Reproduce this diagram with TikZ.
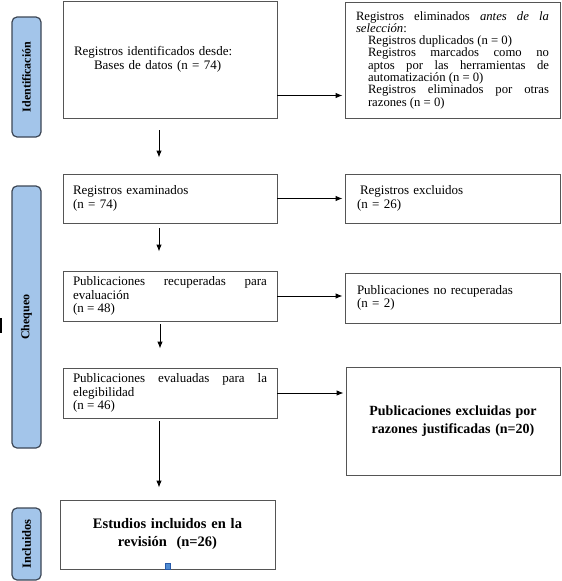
\documentclass[tikz,border=0pt]{standalone}
\usepackage{fontspec}
\setmainfont{Liberation Serif}
\usetikzlibrary{arrows.meta,calc}
\definecolor{labfill}{RGB}{163,197,234}
\definecolor{labdraw}{RGB}{60,70,85}
\definecolor{boxdraw}{RGB}{85,85,85}
\definecolor{mkfill}{RGB}{80,140,210}
\definecolor{mkdraw}{RGB}{40,90,170}
\tikzset{
  box/.style={draw=boxdraw, line width=0.9pt, fill=white, inner xsep=10pt, inner ysep=0pt,
    font=\fontsize{13}{13.5}\selectfont, execute at begin node={\setlength{\parindent}{0pt}}},
  boldbox/.style={box, align=center, font=\bfseries\fontsize{14}{17.5}\selectfont},
  lab/.style={draw=labdraw, fill=labfill, line width=1.2pt, rounded corners=5pt, rotate=90,
    inner sep=0pt, font=\bfseries\fontsize{12}{13}\selectfont},
  arr/.style={-{Latex[length=7pt,width=5.5pt]}, line width=0.9pt, black},
}
\begin{document}
\begin{tikzpicture}[x=1pt,y=-1pt]
\useasboundingbox (0,0) rectangle (562,581);

% stage labels
\node[lab, minimum width=120pt, minimum height=29pt] (L1) at (26.5,77) {Identificación};
\node[lab, minimum width=262pt, minimum height=29pt] (L2) at (26.5,317) {Chequeo};
\node[lab, minimum width=72pt, minimum height=29pt, font=\bfseries\fontsize{12.5}{14}\selectfont] (L3) at (26.5,544) {Incluidos};

% boxes
\node[box, minimum width=214pt, minimum height=117pt, inner xsep=11pt, text width=192pt, align=left] (b1) at (170,59.5)
  {Registros identificados desde:\\\hspace*{20pt}Bases de datos (n = 74)};
\node[box, minimum width=215pt, minimum height=116pt, inner xsep=11pt, text width=193pt, align=justify,
  font=\fontsize{12.7}{12.3}\selectfont] (b2) at (452.5,60)
  {Registros eliminados \textit{antes de la}\linebreak \textit{selección}:\par
   {\leftskip=12pt Registros duplicados (n = 0)\par
   Registros marcados como no\linebreak aptos por las herramientas de\linebreak automatización (n = 0)\par
   Registros eliminados por otras\linebreak razones (n = 0)\par}};

\node[box, minimum width=214pt, minimum height=49pt, text width=194pt, align=left] (b3) at (170,198.5)
  {Registros examinados\\(n = 74)};
\node[box, minimum width=215pt, minimum height=49pt, inner xsep=12pt, text width=191pt, align=left] (b4) at (452.5,198.5)
  {\hspace*{3pt}Registros excluidos\\(n = 26)};

\node[box, minimum width=214pt, minimum height=50pt, text width=194pt, align=justify] (b5) at (170,296)
  {Publicaciones recuperadas para\linebreak evaluación\par (n = 48)};
\node[box, minimum width=215pt, minimum height=50pt, inner xsep=12pt, text width=191pt, align=left] (b6) at (452.5,298)
  {Publicaciones no recuperadas\\(n = 2)};

\node[box, minimum width=214pt, minimum height=50pt, text width=194pt, align=justify] (b7) at (170,393)
  {Publicaciones evaluadas para la\linebreak elegibilidad\par (n = 46)};
\node[boldbox, minimum width=214pt, minimum height=108pt, text width=194pt] (b8) at (453,421)
  {Publicaciones excluidas por\\razones justificadas (n=20)};

\node[boldbox, minimum width=215pt, minimum height=69pt, text width=195pt, font=\bfseries\fontsize{14.5}{18}\selectfont] (b9) at (167.5,534.5)
  {Estudios incluidos en la\\revisión~~(n=26)};

% small marker on bottom edge of final box
\node[fill=mkfill, draw=mkdraw, line width=0.5pt, minimum width=5pt, minimum height=6pt, inner sep=0pt] (mk) at (168,566) {};

% stray mark at left edge
\draw[line width=1.4pt] (1,318) -- (1,333);

% horizontal connectors
\draw[arr, shorten >=2pt] ([yshift=-36pt]b1.east) -- ([yshift=-36pt]b1.east -| b2.west);
\draw[arr, shorten >=2pt] (b3.east) -- (b3.east -| b4.west);
\draw[arr, shorten >=2pt] (b5.east) -- (b5.east -| b6.west);
\draw[arr, shorten >=2pt] (b7.east) -- (b7.east -| b8.west);

% vertical connectors
\draw[arr] ([xshift=-11pt,yshift=-12pt]b1.south) -- ([xshift=-11pt,yshift=16pt]b3.north);
\draw[arr] ([xshift=-11pt,yshift=-5pt]b3.south) -- ([xshift=-11pt,yshift=19pt]b5.north);
\draw[arr] ([xshift=-10pt,yshift=-3pt]b5.south) -- ([xshift=-10pt,yshift=19pt]b7.north);
\coordinate (s4) at ([xshift=-11pt,yshift=-3pt]b7.south);
\draw[arr] (s4) -- ([yshift=12pt]s4 |- b9.north);
\end{tikzpicture}
\end{document}
